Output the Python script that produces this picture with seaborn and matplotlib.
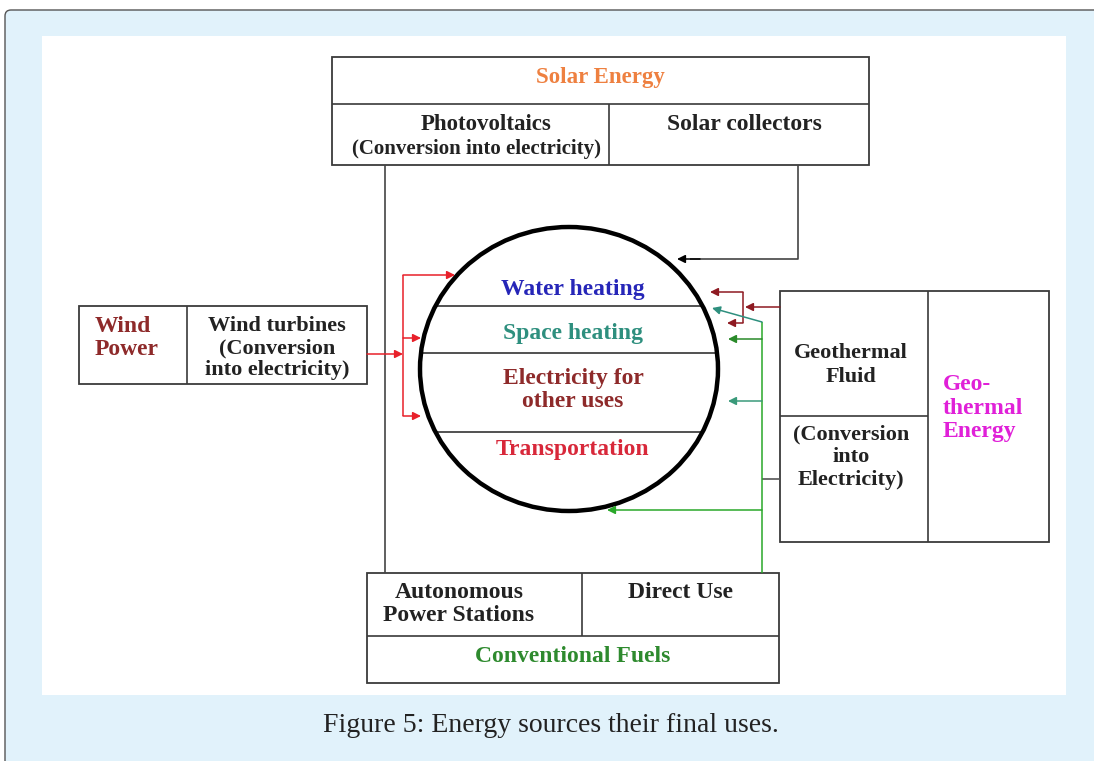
import numpy as np
import matplotlib
matplotlib.use("Agg")
import matplotlib.pyplot as plt
import seaborn as sns
from matplotlib.patches import Rectangle, Ellipse, FancyBboxPatch

sns.set_theme(style="white")
plt.rcParams['font.family'] = ['Liberation Serif', 'DejaVu Serif']

# ---- content ----
caption = "Figure 5: Energy sources their final uses."
uses = ["Water heating", "Space heating", "Electricity for\nother uses", "Transportation"]
use_colors = ["#2626B8", "#2E8F7E", "#8E2A2A", "#D8283A"]
use_y = [290, 333, 390, 449]
use_dividers = [306, 353, 432]

solar_title = "Solar Energy"
solar_parts = ["Photovoltaics", "(Conversion into electricity)", "Solar collectors"]
wind_labels = ["Wind\nPower", "Wind turbines\n(Conversion\ninto electricity)"]
geo_labels = ["Geothermal\nFluid", "(Conversion\ninto\nElectricity)", "Geo-\nthermal\nEnergy"]
conv_labels = ["Autonomous\nPower Stations", "Direct Use", "Conventional Fuels"]

W, H = 1094, 761
fig = plt.figure(figsize=(W / 100, H / 100), dpi=100)
ax = fig.add_axes([0, 0, 1, 1])
ax.set_xlim(0, W)
ax.set_ylim(H, 0)
ax.axis("off")

# background
fig.patch.set_facecolor("white")
ax.add_patch(FancyBboxPatch((5, 10), 1200, 900, boxstyle="round,pad=0,rounding_size=6",
                            facecolor="#E1F2FB", edgecolor="#555555", lw=1.0))
ax.add_patch(Rectangle((42, 36), 1024, 659, facecolor="white", edgecolor="none"))
ax.text(551, 725, caption, ha="center", va="center", fontsize=20, color="#222222",
        family=["Liberation Serif"])

BOX = "#3a3a3a"
INK = "#222222"


def box(x0, y0, x1, y1, lw=1.3):
    ax.add_patch(Rectangle((x0, y0), x1 - x0, y1 - y0, facecolor="none", edgecolor=BOX, lw=lw))


def line(xs, ys, c=BOX, lw=1.2):
    ax.plot(xs, ys, color=c, lw=lw, solid_capstyle="butt")


def arrow(x0, y0, x1, y1, c, ms=12):
    ax.annotate("", xy=(x1, y1), xytext=(x0, y0),
                arrowprops=dict(arrowstyle="-|>", color=c, lw=1.1, mutation_scale=ms,
                                shrinkA=0, shrinkB=0))


def label(x, y, s, c, fs, ls=1.15, ha="center"):
    ax.text(x, y, s, color=c, fontsize=fs, linespacing=ls, fontweight="bold",
            ha=ha, va="center", multialignment=ha, zorder=4)


# ---- Solar box ----
box(332, 57, 869, 165)
line([332, 869], [104, 104])
line([609, 609], [104, 165])
label(600, 77, solar_title, "#EE8040", 16.5)
label(486, 124, solar_parts[0], INK, 16.5)
label(476, 149, solar_parts[1], INK, 15)
label(744, 124, solar_parts[2], INK, 17)

# ---- central circle ----
cx, cy, a, b = 569, 369, 149, 142
for yd in use_dividers:
    dx = a * np.sqrt(1 - ((yd - cy) / b) ** 2)
    line([cx - dx, cx + dx], [yd, yd], c="#333333", lw=1.2)
ax.add_patch(Ellipse((cx, cy), 2 * a, 2 * b, facecolor="none", edgecolor="black", lw=3.2, zorder=3))
for txt, col, yy in zip(uses, use_colors, use_y):
    label(573, yy, txt, col, 17, ls=1.1)

# photovoltaics line down to autonomous stations
line([385, 385], [165, 573], c="#444444")
# solar collectors line to circle
line([798, 798, 690], [165, 259, 259], c="#444444")
arrow(700, 259, 677, 259, "black")

# ---- Wind box ----
box(79, 306, 367, 384)
line([187, 187], [306, 384])
label(95, 338, wind_labels[0], "#8E2A2A", 17, ls=1.15, ha="left")
label(277, 348, wind_labels[1], INK, 16, ls=1.15)
RED = "#E8202A"
arrow(367, 354, 403, 354, RED)
line([403, 403], [275, 416], c=RED, lw=1.1)
arrow(403, 275, 455, 275, RED)
arrow(403, 338, 421, 338, RED)
arrow(403, 416, 421, 416, RED)

# ---- Geothermal box ----
box(780, 291, 1049, 542)
line([928, 928], [291, 542])
line([780, 928], [416, 416])
label(851, 365, geo_labels[0], INK, 16, ls=1.29)
label(851, 457, geo_labels[1], INK, 16, ls=1.2)
label(943, 408, geo_labels[2], "#E020D8", 17, ls=1.15, ha="left")

DRED = "#8E1A22"
arrow(780, 307, 745, 307, DRED)
line([743, 743], [292, 323], c=DRED, lw=1.1)
arrow(743, 292, 710, 292, DRED)
arrow(743, 323, 727, 323, DRED)

GREEN = "#2AA82A"
line([780, 762], [479, 479], c="#555555")
line([762, 762], [322, 573], c=GREEN, lw=1.1)
arrow(762, 322, 712, 308, "#2E8F7E")
arrow(762, 339, 728, 339, "#2A8A2A")
arrow(762, 401, 728, 401, "#3A9A7A")
arrow(762, 510, 607, 510, GREEN)

# ---- Conventional fuels ----
box(367, 573, 779, 683)
line([367, 779], [636, 636])
line([582, 582], [573, 636])
label(459, 604, conv_labels[0], INK, 17, ls=1.1)
label(680, 592, conv_labels[1], INK, 17)
label(573, 656, conv_labels[2], "#2E8A2E", 17)

fig.savefig("out.png", dpi=100)
